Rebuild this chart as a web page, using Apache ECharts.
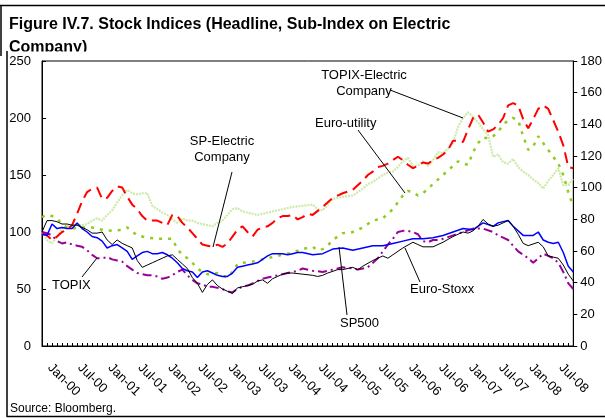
<!DOCTYPE html>
<html>
<head>
<meta charset="utf-8">
<script src="https://cdn.jsdelivr.net/npm/echarts@6/dist/echarts.min.js"></script>
<style>
  html, body { margin: 0; padding: 0; background: #fff; }
  #chart { width: 605px; height: 418px; }
</style>
</head>
<body>
<div id="chart"></div>
<script>
// monthly categories Jan-00 .. Nov-08
const monthNames = ['Jan', 'Feb', 'Mar', 'Apr', 'May', 'Jun', 'Jul', 'Aug', 'Sep', 'Oct', 'Nov', 'Dec']
const years = ['00', '01', '02', '03', '04', '05', '06', '07', '08']
const months = []
years.forEach(y => monthNames.forEach(m => months.push(m + '-' + y)))
months.length = 107

// [month index, value]
const spElectric = [[0,100],[1,97],[2,93],[3,96],[4,100],[5,102],[6,106],[7,116],[8,127],[9,135],[10,138],[11,139],[12,129],[13,130],[14,136],[15,140],[16,139],[17,131],[18,124],[19,120],[20,114],[21,110],[22,110],[23,110],[24,108],[25,106],[26,115],[27,114],[28,108],[29,104],[30,99],[31,94],[32,89],[33,88],[34,87],[35,89],[36,87],[37,90],[38,96],[39,102],[40,105],[41,100],[42,96],[43,102],[44,104],[45,105],[46,108],[47,112],[48,114],[49,114],[50,115],[51,111],[52,113],[53,116],[54,115],[56,122],[58,130],[60,134],[62,137],[64,145],[65,150],[66,153],[67,157],[68,158],[69,160],[70,163],[71,166],[72,163],[73,159],[74,156],[75,158],[76,161],[77,160],[78,163],[79,165],[80,168],[81,172],[82,180],[83,180],[84,179],[85,190],[86,200],[87,203],[88,196],[89,188],[90,190],[91,194],[92,200],[93,211],[94,213],[95,211],[96,199],[97,191],[98,199],[99,208],[100,211],[101,208],[102,198],[103,188],[104,176],[105,157],[106,156]]

const topixElectric = [[0,100],[1,93],[2,90],[3,96],[4,103],[5,105],[6,105],[7,106],[8,106],[9,107],[10,110],[11,112],[12,110],[13,115],[14,119],[15,126],[16,132],[17,137],[18,134],[19,133],[20,134],[21,134],[22,123],[23,120],[24,117],[25,115],[26,111],[27,108],[28,112],[29,110],[30,110],[31,108],[32,107],[33,106],[34,105],[35,108],[36,110],[37,115],[38,120],[39,121],[40,118],[41,117],[42,116],[43,115],[44,116],[45,117],[46,118],[47,119],[48,120],[49,121],[50,122],[52,123],[54,124],[55,120],[56,119],[57,124],[58,129],[60,131],[62,132],[63,135],[64,138],[65,142],[66,144],[67,147],[68,150],[69,152],[70,153],[71,157],[72,162],[73,165],[74,158],[75,158],[76,162],[77,158],[78,163],[79,170],[80,169],[81,173],[82,178],[83,192],[84,200],[85,205],[86,201],[87,196],[88,190],[89,185],[90,166],[91,168],[92,161],[93,160],[94,164],[95,157],[96,153],[97,150],[98,146],[99,143],[100,138],[101,145],[102,150],[103,156],[104,141],[105,141],[106,147]]

const euroUtility = [[0,113],[1,115],[2,114],[3,112],[4,107],[5,104],[6,103],[8,104],[10,104],[12,102],[14,101],[16,102],[17,104],[19,97],[21,95],[23,94],[26,94],[27,85],[28,80],[29,77],[30,73],[31,68],[32,65],[33,63],[34,63],[35,64],[36,62],[37,60],[38,65],[39,72],[40,73],[42,74],[44,76],[46,78],[48,80],[50,82],[52,85],[54,87],[55,84],[56,85],[57,88],[58,93],[60,99],[62,100],[64,104],[66,110],[68,112],[70,120],[72,132],[73,136],[74,135],[75,132],[76,134],[77,138],[78,142],[79,146],[80,150],[81,154],[82,158],[83,162],[84,160],[85,159],[86,170],[87,178],[88,183],[89,182],[90,184],[91,188],[92,194],[93,198],[94,200],[95,198],[96,184],[97,172],[98,175],[99,184],[100,178],[101,172],[102,166],[103,160],[104,150],[105,135],[106,122]]

const sp500 = [[0,98],[1,97],[2,107],[3,103],[4,104],[5,103],[6,103],[7,108],[8,103],[9,100],[10,96],[11,95],[12,92],[13,86],[14,88],[15,89],[16,86],[17,83],[18,76],[19,79],[20,82],[21,83],[22,81],[23,81],[24,82],[25,80],[26,77],[27,73],[28,68],[29,66],[30,65],[31,60],[32,65],[33,66],[34,64],[35,62],[36,61],[37,61],[38,64],[39,69],[40,70],[41,71],[42,72],[43,73],[44,76],[45,79],[46,81],[47,81],[48,81],[49,80],[50,81],[51,82],[52,82],[54,80],[56,81],[58,85],[60,86],[62,84],[64,86],[66,88],[68,88],[70,90],[72,92],[74,94],[76,94],[78,95],[80,97],[82,100],[84,103],[86,102],[88,108],[90,105],[91,108],[93,110],[94,105],[96,97],[98,97],[99,100],[100,93],[101,91],[102,90],[103,91],[104,82],[105,70],[106,65]]

const euroStoxx = [[0,100],[1,110],[2,110],[3,109],[4,107],[5,107],[6,106],[7,106],[8,104],[9,102],[10,99],[11,99],[12,100],[13,93],[14,89],[15,93],[16,90],[17,88],[18,86],[19,75],[20,69],[21,71],[22,73],[23,75],[24,77],[25,79],[26,80],[27,76],[28,72],[29,68],[30,60],[31,55],[32,47],[33,54],[34,58],[35,53],[36,50],[37,48],[38,46],[39,51],[40,52],[41,53],[42,54],[43,57],[44,58],[45,55],[46,59],[47,61],[48,63],[49,64],[50,64],[52,63],[54,62],[55,61],[56,62],[57,64],[59,67],[60,67],[62,69],[63,67],[64,70],[66,75],[68,79],[69,77],[70,80],[72,86],[74,91],[75,89],[76,87],[78,87],[80,91],[82,96],[84,100],[85,99],[86,101],[87,105],[88,111],[89,107],[90,105],[91,106],[92,108],[93,110],[94,105],[95,98],[96,90],[97,88],[99,91],[100,87],[101,79],[102,78],[103,77],[104,71],[105,63],[106,57]]

const topix = [[0,100],[1,99],[2,97],[3,92],[4,90],[5,91],[6,89],[7,88],[8,87],[9,84],[10,80],[11,77],[12,77],[13,78],[14,76],[15,75],[16,74],[17,70],[18,67],[19,64],[20,63],[21,62],[22,62],[23,61],[24,59],[25,60],[26,62],[27,65],[28,67],[29,62],[30,58],[31,55],[32,54],[33,52],[34,52],[35,51],[36,50],[37,48],[38,47],[39,50],[40,52],[41,53],[42,55],[43,57],[44,59],[45,60],[46,61],[47,62],[48,63],[49,64],[50,65],[51,66],[52,68],[54,66],[56,65],[58,67],[60,69],[62,68],[63,67],[65,69],[67,77],[69,89],[70,94],[71,100],[72,101],[73,101],[74,100],[75,98],[76,92],[77,91],[78,93],[79,93],[80,94],[82,97],[84,100],[86,103],[88,103],[90,100],[91,97],[92,95],[93,93],[94,88],[95,83],[96,80],[97,77],[98,73],[99,77],[100,81],[101,79],[102,77],[103,73],[104,65],[105,55],[106,50]]

const FONT = '"Liberation Sans", Arial, sans-serif'

const chart = echarts.init(document.getElementById('chart'))

function label(text, x, y, align) {
  return {
    type: 'text', x, y, z: 50,
    style: { text, font: '13px ' + FONT, fill: '#000', align: align || 'left', verticalAlign: 'middle', lineHeight: 16 }
  }
}
function leader(x1, y1, x2, y2) {
  return { type: 'line', z: 50, shape: { x1, y1, x2, y2 }, style: { stroke: '#000', lineWidth: 1 } }
}

chart.setOption({
  animation: false,
  backgroundColor: '#fff',
  grid: { left: 42, right: 29, top: 61, bottom: 72, show: true, borderColor: '#000', borderWidth: 1 },
  xAxis: {
    type: 'category',
    data: months,
    boundaryGap: false,
    axisLine: { lineStyle: { color: '#000', width: 1 } },
    axisTick: { inside: true, length: 3, interval: 0, lineStyle: { color: '#000' } },
    axisLabel: { interval: 5, rotate: -45, margin: 12, padding: [0, 0, 0, 11], color: '#000', fontSize: 13, fontFamily: FONT },
    splitLine: { show: false }
  },
  yAxis: [{
    type: 'value', min: 0, max: 250, interval: 50,
    axisLine: { show: true, lineStyle: { color: '#000' } },
    axisTick: { show: true, inside: true, length: 4, lineStyle: { color: '#000' } },
    axisLabel: { color: '#000', fontSize: 13, fontFamily: FONT, margin: 11 },
    splitLine: { show: false }
  }, {
    type: 'value', min: 0, max: 180, interval: 20, position: 'right',
    axisLine: { show: true, lineStyle: { color: '#000' } },
    axisTick: { show: true, inside: false, length: 4, lineStyle: { color: '#000' } },
    axisLabel: { color: '#000', fontSize: 13, fontFamily: FONT, margin: 7 },
    splitLine: { show: false }
  }],
  series: [
    { name: 'TOPIX-Electric Company', type: 'line', data: topixElectric, showSymbol: false, symbol: 'none',
      lineStyle: { color: '#cdeaa9', width: 2.2, type: [2, 1] } },
    { name: 'Euro-utility', type: 'line', data: euroUtility, showSymbol: false, symbol: 'none',
      lineStyle: { color: '#90cc20', width: 2.5, type: [3, 6] } },
    { name: 'SP-Electric Company', type: 'line', data: spElectric, showSymbol: false, symbol: 'none',
      lineStyle: { color: '#ff0000', width: 2, type: [11, 6] } },
    { name: 'TOPIX', type: 'line', data: topix, showSymbol: false, symbol: 'none',
      lineStyle: { color: '#990099', width: 2, type: [9, 4, 2, 4] } },
    { name: 'SP500', type: 'line', data: sp500, showSymbol: false, symbol: 'none',
      lineStyle: { color: '#0000ff', width: 1.5 } },
    { name: 'Euro-Stoxx', type: 'line', data: euroStoxx, showSymbol: false, symbol: 'none',
      lineStyle: { color: '#000000', width: 1 } }
  ],
  graphic: [
    { type: 'text', x: 9, y: 13, z: 1,
      style: { text: 'Figure IV.7. Stock Indices (Headline, Sub-Index on Electric\nCompany)', font: 'bold 16px ' + FONT, fill: '#000', lineHeight: 23 } },
    { type: 'rect', z: 2, shape: { x: 8, y: 51.5, width: 300, height: 4 }, style: { fill: '#fff' } },
    { type: 'line', z: 3, shape: { x1: 0, y1: 5.5, x2: 605, y2: 5.5 }, style: { stroke: '#000', lineWidth: 1.5 } },
    { type: 'line', z: 3, shape: { x1: 1, y1: 5, x2: 1, y2: 56 }, style: { stroke: '#000', lineWidth: 1.5 } },
    { type: 'line', z: 3, shape: { x1: 7, y1: 51, x2: 7, y2: 417 }, style: { stroke: '#000', lineWidth: 1.5 } },
    { type: 'line', z: 3, shape: { x1: 7, y1: 416.5, x2: 605, y2: 416.5 }, style: { stroke: '#000', lineWidth: 1.5 } },
    label('SP-Electric\nCompany', 222, 149, 'center'),
    leader(232, 172, 213, 247),
    label('TOPIX-Electric\nCompany', 364, 83, 'center'),
    leader(390, 90, 463, 118),
    label('Euro-utility', 315, 123),
    leader(358, 130, 405, 193),
    label('Euro-Stoxx', 410, 289),
    leader(420, 282, 405, 248),
    label('SP500', 340, 323),
    leader(347, 315, 339, 247),
    label('TOPIX', 52, 285),
    leader(82, 277, 97, 258),
    { type: 'text', x: 10, y: 409, z: 50,
      style: { text: 'Source: Bloomberg.', font: '12px ' + FONT, fill: '#000', verticalAlign: 'middle' } }
  ]
})
</script>
</body>
</html>
